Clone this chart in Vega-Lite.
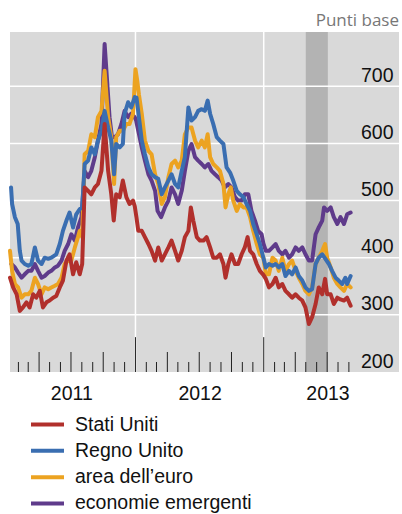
{
"$schema": "https://vega.github.io/schema/vega-lite/v6.json",
"width": 389, "height": 340,
"autosize": "none",
"padding": {"left": 10, "top": 32, "right": 3, "bottom": 142},
"background": "white",
"title": {"text": "Punti base", "anchor": "end", "frame": "group", "fontSize": 17, "font": "Open Sans", "fontWeight": "normal", "color": "#777777", "offset": 6, "baseline": "alphabetic", "dy": 18},
"config": {
  "view": {"fill": "#d9d9d9", "stroke": null},
  "axisY": {"domain": false, "ticks": false, "grid": false, "labelFontSize": 19.5, "labelFont": "Liberation Sans", "labelColor": "#111111", "labelAlign": "right", "labelPadding": -6, "labelOffset": -5, "labelBaseline": "alphabetic", "title": null, "zindex": 1},
  "axisX": {"domain": false, "ticks": false, "grid": false, "labelFontSize": 19.5, "labelFont": "Liberation Sans", "labelColor": "#111111", "labelPadding": 12, "title": null},
  "legend": {"orient": "none", "legendX": 27.75, "legendY": 382.8, "direction": "vertical", "title": null, "symbolType": "M-3,0H3", "symbolSize": 121, "symbolStrokeWidth": 4, "labelFontSize": 19.5, "labelFont": "Liberation Sans", "labelColor": "#111111", "rowPadding": 5.3, "labelOffset": 17.75, "padding": 0, "symbolOffset": 0, "labelLimit": 0}
},
"datasets": {
  "band": [{"a": "2013-05-01", "b": "2013-07-03"}],
  "vgrid": [{"d": "2012-01-01"}, {"d": "2013-01-01"}],
  "hgrid": [{"g": 300}, {"g": 400}, {"g": 500}, {"g": 600}, {"g": 700}],
  "ticks": [
    {"d": "2011-02-01", "k": "m"}, {"d": "2011-03-01", "k": "m"}, {"d": "2011-04-01", "k": "q"}, {"d": "2011-05-01", "k": "m"}, {"d": "2011-06-01", "k": "m"}, {"d": "2011-07-01", "k": "q"}, {"d": "2011-08-01", "k": "m"}, {"d": "2011-09-01", "k": "m"}, {"d": "2011-10-01", "k": "q"}, {"d": "2011-11-01", "k": "m"}, {"d": "2011-12-01", "k": "m"},
    {"d": "2012-01-01", "k": "y"}, {"d": "2012-02-01", "k": "m"}, {"d": "2012-03-01", "k": "m"}, {"d": "2012-04-01", "k": "q"}, {"d": "2012-05-01", "k": "m"}, {"d": "2012-06-01", "k": "m"}, {"d": "2012-07-01", "k": "q"}, {"d": "2012-08-01", "k": "m"}, {"d": "2012-09-01", "k": "m"}, {"d": "2012-10-01", "k": "q"}, {"d": "2012-11-01", "k": "m"}, {"d": "2012-12-01", "k": "m"},
    {"d": "2013-01-01", "k": "y"}, {"d": "2013-02-01", "k": "m"}, {"d": "2013-03-01", "k": "m"}, {"d": "2013-04-01", "k": "q"}, {"d": "2013-05-01", "k": "m"}, {"d": "2013-06-01", "k": "m"}, {"d": "2013-07-01", "k": "q"}, {"d": "2013-08-01", "k": "m"}, {"d": "2013-09-01", "k": "m"}
  ],
  "series": [
    {"d":"2011-01-08","s":"Stati Uniti","v":365},{"d":"2011-01-17","s":"Stati Uniti","v":348},{"d":"2011-01-27","s":"Stati Uniti","v":336},{"d":"2011-02-05","s":"Stati Uniti","v":307},{"d":"2011-02-14","s":"Stati Uniti","v":313},{"d":"2011-02-24","s":"Stati Uniti","v":322},{"d":"2011-03-05","s":"Stati Uniti","v":313},{"d":"2011-03-15","s":"Stati Uniti","v":336},{"d":"2011-03-24","s":"Stati Uniti","v":330},{"d":"2011-04-03","s":"Stati Uniti","v":342},{"d":"2011-04-12","s":"Stati Uniti","v":313},{"d":"2011-04-22","s":"Stati Uniti","v":322},{"d":"2011-05-01","s":"Stati Uniti","v":325},{"d":"2011-05-11","s":"Stati Uniti","v":330},{"d":"2011-05-20","s":"Stati Uniti","v":333},{"d":"2011-05-30","s":"Stati Uniti","v":348},{"d":"2011-06-08","s":"Stati Uniti","v":360},{"d":"2011-06-18","s":"Stati Uniti","v":395},{"d":"2011-06-27","s":"Stati Uniti","v":406},{"d":"2011-07-07","s":"Stati Uniti","v":371},{"d":"2011-07-16","s":"Stati Uniti","v":392},{"d":"2011-07-26","s":"Stati Uniti","v":371},{"d":"2011-08-02","s":"Stati Uniti","v":389},{"d":"2011-08-09","s":"Stati Uniti","v":523},{"d":"2011-08-19","s":"Stati Uniti","v":517},{"d":"2011-08-28","s":"Stati Uniti","v":511},{"d":"2011-09-07","s":"Stati Uniti","v":523},{"d":"2011-09-16","s":"Stati Uniti","v":529},{"d":"2011-09-26","s":"Stati Uniti","v":552},{"d":"2011-10-05","s":"Stati Uniti","v":634},{"d":"2011-10-15","s":"Stati Uniti","v":552},{"d":"2011-10-24","s":"Stati Uniti","v":511},{"d":"2011-10-31","s":"Stati Uniti","v":465},{"d":"2011-11-07","s":"Stati Uniti","v":511},{"d":"2011-11-17","s":"Stati Uniti","v":506},{"d":"2011-11-26","s":"Stati Uniti","v":535},{"d":"2011-12-06","s":"Stati Uniti","v":506},{"d":"2011-12-15","s":"Stati Uniti","v":494},{"d":"2011-12-25","s":"Stati Uniti","v":500},{"d":"2011-12-30","s":"Stati Uniti","v":490},{"d":"2012-01-04","s":"Stati Uniti","v":470},{"d":"2012-01-09","s":"Stati Uniti","v":447},{"d":"2012-01-19","s":"Stati Uniti","v":447},{"d":"2012-01-28","s":"Stati Uniti","v":436},{"d":"2012-02-07","s":"Stati Uniti","v":424},{"d":"2012-02-16","s":"Stati Uniti","v":412},{"d":"2012-02-26","s":"Stati Uniti","v":395},{"d":"2012-03-06","s":"Stati Uniti","v":418},{"d":"2012-03-16","s":"Stati Uniti","v":395},{"d":"2012-03-25","s":"Stati Uniti","v":406},{"d":"2012-04-04","s":"Stati Uniti","v":418},{"d":"2012-04-13","s":"Stati Uniti","v":430},{"d":"2012-04-23","s":"Stati Uniti","v":412},{"d":"2012-05-02","s":"Stati Uniti","v":395},{"d":"2012-05-12","s":"Stati Uniti","v":412},{"d":"2012-05-21","s":"Stati Uniti","v":436},{"d":"2012-05-31","s":"Stati Uniti","v":447},{"d":"2012-06-07","s":"Stati Uniti","v":488},{"d":"2012-06-14","s":"Stati Uniti","v":465},{"d":"2012-06-24","s":"Stati Uniti","v":436},{"d":"2012-07-03","s":"Stati Uniti","v":430},{"d":"2012-07-13","s":"Stati Uniti","v":430},{"d":"2012-07-22","s":"Stati Uniti","v":436},{"d":"2012-08-01","s":"Stati Uniti","v":418},{"d":"2012-08-10","s":"Stati Uniti","v":400},{"d":"2012-08-20","s":"Stati Uniti","v":400},{"d":"2012-08-29","s":"Stati Uniti","v":406},{"d":"2012-09-08","s":"Stati Uniti","v":389},{"d":"2012-09-14","s":"Stati Uniti","v":365},{"d":"2012-09-22","s":"Stati Uniti","v":389},{"d":"2012-10-01","s":"Stati Uniti","v":406},{"d":"2012-10-11","s":"Stati Uniti","v":389},{"d":"2012-10-20","s":"Stati Uniti","v":389},{"d":"2012-10-30","s":"Stati Uniti","v":406},{"d":"2012-11-08","s":"Stati Uniti","v":418},{"d":"2012-11-16","s":"Stati Uniti","v":436},{"d":"2012-11-23","s":"Stati Uniti","v":412},{"d":"2012-12-02","s":"Stati Uniti","v":406},{"d":"2012-12-12","s":"Stati Uniti","v":389},{"d":"2012-12-21","s":"Stati Uniti","v":377},{"d":"2012-12-31","s":"Stati Uniti","v":370},{"d":"2013-01-07","s":"Stati Uniti","v":363},{"d":"2013-01-16","s":"Stati Uniti","v":348},{"d":"2013-01-26","s":"Stati Uniti","v":354},{"d":"2013-02-04","s":"Stati Uniti","v":365},{"d":"2013-02-13","s":"Stati Uniti","v":348},{"d":"2013-02-23","s":"Stati Uniti","v":354},{"d":"2013-03-04","s":"Stati Uniti","v":342},{"d":"2013-03-14","s":"Stati Uniti","v":336},{"d":"2013-03-23","s":"Stati Uniti","v":330},{"d":"2013-04-02","s":"Stati Uniti","v":336},{"d":"2013-04-11","s":"Stati Uniti","v":330},{"d":"2013-04-21","s":"Stati Uniti","v":325},{"d":"2013-04-30","s":"Stati Uniti","v":313},{"d":"2013-05-10","s":"Stati Uniti","v":284},{"d":"2013-05-19","s":"Stati Uniti","v":296},{"d":"2013-05-29","s":"Stati Uniti","v":319},{"d":"2013-06-07","s":"Stati Uniti","v":348},{"d":"2013-06-17","s":"Stati Uniti","v":336},{"d":"2013-06-25","s":"Stati Uniti","v":363},{"d":"2013-07-01","s":"Stati Uniti","v":336},{"d":"2013-07-11","s":"Stati Uniti","v":336},{"d":"2013-07-20","s":"Stati Uniti","v":319},{"d":"2013-07-30","s":"Stati Uniti","v":330},{"d":"2013-08-08","s":"Stati Uniti","v":327},{"d":"2013-08-18","s":"Stati Uniti","v":325},{"d":"2013-08-27","s":"Stati Uniti","v":330},{"d":"2013-09-06","s":"Stati Uniti","v":316},

    {"d":"2011-01-11","s":"Regno Unito","v":523},{"d":"2011-01-14","s":"Regno Unito","v":494},{"d":"2011-01-22","s":"Regno Unito","v":471},{"d":"2011-01-30","s":"Regno Unito","v":459},{"d":"2011-02-05","s":"Regno Unito","v":412},{"d":"2011-02-10","s":"Regno Unito","v":395},{"d":"2011-02-19","s":"Regno Unito","v":389},{"d":"2011-03-01","s":"Regno Unito","v":386},{"d":"2011-03-10","s":"Regno Unito","v":389},{"d":"2011-03-20","s":"Regno Unito","v":418},{"d":"2011-03-29","s":"Regno Unito","v":395},{"d":"2011-04-08","s":"Regno Unito","v":389},{"d":"2011-04-17","s":"Regno Unito","v":400},{"d":"2011-04-27","s":"Regno Unito","v":398},{"d":"2011-05-06","s":"Regno Unito","v":400},{"d":"2011-05-20","s":"Regno Unito","v":406},{"d":"2011-05-30","s":"Regno Unito","v":424},{"d":"2011-06-08","s":"Regno Unito","v":447},{"d":"2011-06-18","s":"Regno Unito","v":465},{"d":"2011-06-27","s":"Regno Unito","v":479},{"d":"2011-07-07","s":"Regno Unito","v":453},{"d":"2011-07-16","s":"Regno Unito","v":476},{"d":"2011-07-26","s":"Regno Unito","v":485},{"d":"2011-08-02","s":"Regno Unito","v":488},{"d":"2011-08-09","s":"Regno Unito","v":564},{"d":"2011-08-19","s":"Regno Unito","v":570},{"d":"2011-08-28","s":"Regno Unito","v":593},{"d":"2011-09-07","s":"Regno Unito","v":581},{"d":"2011-09-16","s":"Regno Unito","v":605},{"d":"2011-09-26","s":"Regno Unito","v":622},{"d":"2011-10-05","s":"Regno Unito","v":657},{"d":"2011-10-15","s":"Regno Unito","v":628},{"d":"2011-10-24","s":"Regno Unito","v":605},{"d":"2011-11-01","s":"Regno Unito","v":546},{"d":"2011-11-07","s":"Regno Unito","v":599},{"d":"2011-11-17","s":"Regno Unito","v":593},{"d":"2011-11-26","s":"Regno Unito","v":599},{"d":"2011-12-01","s":"Regno Unito","v":652},{"d":"2011-12-11","s":"Regno Unito","v":672},{"d":"2011-12-20","s":"Regno Unito","v":663},{"d":"2011-12-30","s":"Regno Unito","v":681},{"d":"2012-01-04","s":"Regno Unito","v":680},{"d":"2012-01-12","s":"Regno Unito","v":640},{"d":"2012-01-19","s":"Regno Unito","v":605},{"d":"2012-01-28","s":"Regno Unito","v":581},{"d":"2012-02-07","s":"Regno Unito","v":558},{"d":"2012-02-16","s":"Regno Unito","v":546},{"d":"2012-02-26","s":"Regno Unito","v":541},{"d":"2012-03-06","s":"Regno Unito","v":538},{"d":"2012-03-16","s":"Regno Unito","v":511},{"d":"2012-03-25","s":"Regno Unito","v":523},{"d":"2012-04-04","s":"Regno Unito","v":535},{"d":"2012-04-13","s":"Regno Unito","v":546},{"d":"2012-04-23","s":"Regno Unito","v":529},{"d":"2012-05-02","s":"Regno Unito","v":523},{"d":"2012-05-12","s":"Regno Unito","v":552},{"d":"2012-05-21","s":"Regno Unito","v":576},{"d":"2012-05-31","s":"Regno Unito","v":663},{"d":"2012-06-09","s":"Regno Unito","v":640},{"d":"2012-06-19","s":"Regno Unito","v":646},{"d":"2012-06-28","s":"Regno Unito","v":657},{"d":"2012-07-08","s":"Regno Unito","v":660},{"d":"2012-07-17","s":"Regno Unito","v":657},{"d":"2012-07-25","s":"Regno Unito","v":675},{"d":"2012-08-01","s":"Regno Unito","v":652},{"d":"2012-08-10","s":"Regno Unito","v":634},{"d":"2012-08-20","s":"Regno Unito","v":611},{"d":"2012-08-29","s":"Regno Unito","v":605},{"d":"2012-09-08","s":"Regno Unito","v":599},{"d":"2012-09-17","s":"Regno Unito","v":558},{"d":"2012-09-27","s":"Regno Unito","v":549},{"d":"2012-10-06","s":"Regno Unito","v":535},{"d":"2012-10-16","s":"Regno Unito","v":517},{"d":"2012-10-25","s":"Regno Unito","v":511},{"d":"2012-11-04","s":"Regno Unito","v":506},{"d":"2012-11-13","s":"Regno Unito","v":494},{"d":"2012-11-23","s":"Regno Unito","v":482},{"d":"2012-12-02","s":"Regno Unito","v":459},{"d":"2012-12-12","s":"Regno Unito","v":441},{"d":"2012-12-21","s":"Regno Unito","v":424},{"d":"2012-12-31","s":"Regno Unito","v":400},{"d":"2013-01-07","s":"Regno Unito","v":383},{"d":"2013-01-16","s":"Regno Unito","v":389},{"d":"2013-01-26","s":"Regno Unito","v":386},{"d":"2013-02-04","s":"Regno Unito","v":389},{"d":"2013-02-13","s":"Regno Unito","v":383},{"d":"2013-02-23","s":"Regno Unito","v":389},{"d":"2013-03-04","s":"Regno Unito","v":368},{"d":"2013-03-14","s":"Regno Unito","v":377},{"d":"2013-03-23","s":"Regno Unito","v":371},{"d":"2013-04-02","s":"Regno Unito","v":383},{"d":"2013-04-11","s":"Regno Unito","v":368},{"d":"2013-04-21","s":"Regno Unito","v":360},{"d":"2013-04-30","s":"Regno Unito","v":348},{"d":"2013-05-10","s":"Regno Unito","v":342},{"d":"2013-05-19","s":"Regno Unito","v":345},{"d":"2013-05-29","s":"Regno Unito","v":389},{"d":"2013-06-07","s":"Regno Unito","v":400},{"d":"2013-06-17","s":"Regno Unito","v":406},{"d":"2013-06-26","s":"Regno Unito","v":398},{"d":"2013-07-06","s":"Regno Unito","v":389},{"d":"2013-07-15","s":"Regno Unito","v":377},{"d":"2013-07-25","s":"Regno Unito","v":365},{"d":"2013-08-03","s":"Regno Unito","v":360},{"d":"2013-08-13","s":"Regno Unito","v":354},{"d":"2013-08-22","s":"Regno Unito","v":365},{"d":"2013-08-27","s":"Regno Unito","v":354},{"d":"2013-09-06","s":"Regno Unito","v":368},

    {"d":"2011-01-08","s":"area dell’euro","v":412},{"d":"2011-01-14","s":"area dell’euro","v":377},{"d":"2011-01-22","s":"area dell’euro","v":354},{"d":"2011-01-31","s":"area dell’euro","v":348},{"d":"2011-02-10","s":"area dell’euro","v":330},{"d":"2011-02-19","s":"area dell’euro","v":336},{"d":"2011-03-01","s":"area dell’euro","v":336},{"d":"2011-03-10","s":"area dell’euro","v":342},{"d":"2011-03-20","s":"area dell’euro","v":365},{"d":"2011-03-29","s":"area dell’euro","v":354},{"d":"2011-04-08","s":"area dell’euro","v":336},{"d":"2011-04-17","s":"area dell’euro","v":348},{"d":"2011-04-27","s":"area dell’euro","v":345},{"d":"2011-05-06","s":"area dell’euro","v":348},{"d":"2011-05-16","s":"area dell’euro","v":351},{"d":"2011-05-25","s":"area dell’euro","v":354},{"d":"2011-06-04","s":"area dell’euro","v":365},{"d":"2011-06-13","s":"area dell’euro","v":389},{"d":"2011-06-23","s":"area dell’euro","v":395},{"d":"2011-07-02","s":"area dell’euro","v":395},{"d":"2011-07-12","s":"area dell’euro","v":418},{"d":"2011-07-21","s":"area dell’euro","v":436},{"d":"2011-07-26","s":"area dell’euro","v":447},{"d":"2011-08-02","s":"area dell’euro","v":436},{"d":"2011-08-09","s":"area dell’euro","v":581},{"d":"2011-08-19","s":"area dell’euro","v":587},{"d":"2011-08-28","s":"area dell’euro","v":616},{"d":"2011-09-07","s":"area dell’euro","v":611},{"d":"2011-09-16","s":"area dell’euro","v":646},{"d":"2011-09-26","s":"area dell’euro","v":657},{"d":"2011-10-05","s":"area dell’euro","v":727},{"d":"2011-10-15","s":"area dell’euro","v":646},{"d":"2011-10-24","s":"area dell’euro","v":611},{"d":"2011-11-01","s":"area dell’euro","v":529},{"d":"2011-11-07","s":"area dell’euro","v":611},{"d":"2011-11-17","s":"area dell’euro","v":622},{"d":"2011-11-26","s":"area dell’euro","v":622},{"d":"2011-12-06","s":"area dell’euro","v":634},{"d":"2011-12-15","s":"area dell’euro","v":634},{"d":"2011-12-25","s":"area dell’euro","v":652},{"d":"2012-01-01","s":"area dell’euro","v":730},{"d":"2012-01-06","s":"area dell’euro","v":710},{"d":"2012-01-11","s":"area dell’euro","v":685},{"d":"2012-01-19","s":"area dell’euro","v":652},{"d":"2012-01-28","s":"area dell’euro","v":605},{"d":"2012-02-07","s":"area dell’euro","v":587},{"d":"2012-02-16","s":"area dell’euro","v":581},{"d":"2012-02-26","s":"area dell’euro","v":546},{"d":"2012-03-06","s":"area dell’euro","v":529},{"d":"2012-03-16","s":"area dell’euro","v":494},{"d":"2012-03-25","s":"area dell’euro","v":506},{"d":"2012-04-04","s":"area dell’euro","v":541},{"d":"2012-04-13","s":"area dell’euro","v":564},{"d":"2012-04-23","s":"area dell’euro","v":570},{"d":"2012-05-02","s":"area dell’euro","v":558},{"d":"2012-05-12","s":"area dell’euro","v":570},{"d":"2012-05-21","s":"area dell’euro","v":616},{"d":"2012-05-31","s":"area dell’euro","v":628},{"d":"2012-06-09","s":"area dell’euro","v":628},{"d":"2012-06-19","s":"area dell’euro","v":605},{"d":"2012-06-28","s":"area dell’euro","v":593},{"d":"2012-07-08","s":"area dell’euro","v":605},{"d":"2012-07-17","s":"area dell’euro","v":593},{"d":"2012-07-25","s":"area dell’euro","v":616},{"d":"2012-08-01","s":"area dell’euro","v":576},{"d":"2012-08-10","s":"area dell’euro","v":564},{"d":"2012-08-20","s":"area dell’euro","v":558},{"d":"2012-08-29","s":"area dell’euro","v":552},{"d":"2012-09-08","s":"area dell’euro","v":529},{"d":"2012-09-14","s":"area dell’euro","v":488},{"d":"2012-09-22","s":"area dell’euro","v":511},{"d":"2012-09-29","s":"area dell’euro","v":523},{"d":"2012-10-06","s":"area dell’euro","v":500},{"d":"2012-10-16","s":"area dell’euro","v":482},{"d":"2012-10-25","s":"area dell’euro","v":494},{"d":"2012-11-04","s":"area dell’euro","v":488},{"d":"2012-11-13","s":"area dell’euro","v":488},{"d":"2012-11-23","s":"area dell’euro","v":471},{"d":"2012-12-02","s":"area dell’euro","v":447},{"d":"2012-12-12","s":"area dell’euro","v":424},{"d":"2012-12-21","s":"area dell’euro","v":406},{"d":"2012-12-31","s":"area dell’euro","v":400},{"d":"2013-01-07","s":"area dell’euro","v":371},{"d":"2013-01-16","s":"area dell’euro","v":371},{"d":"2013-01-26","s":"area dell’euro","v":400},{"d":"2013-02-04","s":"area dell’euro","v":395},{"d":"2013-02-13","s":"area dell’euro","v":377},{"d":"2013-02-23","s":"area dell’euro","v":400},{"d":"2013-03-04","s":"area dell’euro","v":377},{"d":"2013-03-14","s":"area dell’euro","v":389},{"d":"2013-03-23","s":"area dell’euro","v":395},{"d":"2013-04-02","s":"area dell’euro","v":377},{"d":"2013-04-11","s":"area dell’euro","v":365},{"d":"2013-04-21","s":"area dell’euro","v":354},{"d":"2013-04-30","s":"area dell’euro","v":342},{"d":"2013-05-10","s":"area dell’euro","v":336},{"d":"2013-05-19","s":"area dell’euro","v":348},{"d":"2013-05-29","s":"area dell’euro","v":389},{"d":"2013-06-07","s":"area dell’euro","v":400},{"d":"2013-06-17","s":"area dell’euro","v":412},{"d":"2013-06-25","s":"area dell’euro","v":424},{"d":"2013-07-01","s":"area dell’euro","v":400},{"d":"2013-07-11","s":"area dell’euro","v":383},{"d":"2013-07-20","s":"area dell’euro","v":365},{"d":"2013-07-30","s":"area dell’euro","v":354},{"d":"2013-08-08","s":"area dell’euro","v":348},{"d":"2013-08-18","s":"area dell’euro","v":342},{"d":"2013-08-27","s":"area dell’euro","v":354},{"d":"2013-09-06","s":"area dell’euro","v":348},

    {"d":"2011-01-12","s":"economie emergenti","v":389},{"d":"2011-01-22","s":"economie emergenti","v":383},{"d":"2011-01-31","s":"economie emergenti","v":374},{"d":"2011-02-10","s":"economie emergenti","v":365},{"d":"2011-02-19","s":"economie emergenti","v":371},{"d":"2011-03-01","s":"economie emergenti","v":377},{"d":"2011-03-10","s":"economie emergenti","v":377},{"d":"2011-03-20","s":"economie emergenti","v":389},{"d":"2011-03-29","s":"economie emergenti","v":377},{"d":"2011-04-08","s":"economie emergenti","v":365},{"d":"2011-04-17","s":"economie emergenti","v":368},{"d":"2011-04-27","s":"economie emergenti","v":374},{"d":"2011-05-06","s":"economie emergenti","v":377},{"d":"2011-05-16","s":"economie emergenti","v":383},{"d":"2011-05-25","s":"economie emergenti","v":386},{"d":"2011-06-04","s":"economie emergenti","v":395},{"d":"2011-06-13","s":"economie emergenti","v":412},{"d":"2011-06-23","s":"economie emergenti","v":424},{"d":"2011-07-02","s":"economie emergenti","v":441},{"d":"2011-07-12","s":"economie emergenti","v":430},{"d":"2011-07-21","s":"economie emergenti","v":453},{"d":"2011-07-31","s":"economie emergenti","v":471},{"d":"2011-08-09","s":"economie emergenti","v":552},{"d":"2011-08-19","s":"economie emergenti","v":541},{"d":"2011-08-28","s":"economie emergenti","v":552},{"d":"2011-09-07","s":"economie emergenti","v":576},{"d":"2011-09-16","s":"economie emergenti","v":605},{"d":"2011-09-26","s":"economie emergenti","v":634},{"d":"2011-10-05","s":"economie emergenti","v":774},{"d":"2011-10-12","s":"economie emergenti","v":710},{"d":"2011-10-19","s":"economie emergenti","v":646},{"d":"2011-10-26","s":"economie emergenti","v":611},{"d":"2011-11-03","s":"economie emergenti","v":611},{"d":"2011-11-12","s":"economie emergenti","v":616},{"d":"2011-11-22","s":"economie emergenti","v":634},{"d":"2011-12-01","s":"economie emergenti","v":657},{"d":"2011-12-11","s":"economie emergenti","v":646},{"d":"2011-12-20","s":"economie emergenti","v":652},{"d":"2011-12-30","s":"economie emergenti","v":646},{"d":"2012-01-03","s":"economie emergenti","v":640},{"d":"2012-01-09","s":"economie emergenti","v":622},{"d":"2012-01-19","s":"economie emergenti","v":593},{"d":"2012-01-28","s":"economie emergenti","v":570},{"d":"2012-02-07","s":"economie emergenti","v":546},{"d":"2012-02-16","s":"economie emergenti","v":535},{"d":"2012-02-26","s":"economie emergenti","v":517},{"d":"2012-03-04","s":"economie emergenti","v":482},{"d":"2012-03-14","s":"economie emergenti","v":471},{"d":"2012-03-25","s":"economie emergenti","v":488},{"d":"2012-04-04","s":"economie emergenti","v":500},{"d":"2012-04-13","s":"economie emergenti","v":523},{"d":"2012-04-23","s":"economie emergenti","v":511},{"d":"2012-05-02","s":"economie emergenti","v":494},{"d":"2012-05-12","s":"economie emergenti","v":517},{"d":"2012-05-21","s":"economie emergenti","v":552},{"d":"2012-05-31","s":"economie emergenti","v":587},{"d":"2012-06-09","s":"economie emergenti","v":599},{"d":"2012-06-19","s":"economie emergenti","v":576},{"d":"2012-06-28","s":"economie emergenti","v":570},{"d":"2012-07-08","s":"economie emergenti","v":564},{"d":"2012-07-17","s":"economie emergenti","v":558},{"d":"2012-07-27","s":"economie emergenti","v":564},{"d":"2012-08-05","s":"economie emergenti","v":552},{"d":"2012-08-15","s":"economie emergenti","v":546},{"d":"2012-08-24","s":"economie emergenti","v":541},{"d":"2012-09-03","s":"economie emergenti","v":535},{"d":"2012-09-12","s":"economie emergenti","v":523},{"d":"2012-09-22","s":"economie emergenti","v":529},{"d":"2012-10-01","s":"economie emergenti","v":523},{"d":"2012-10-11","s":"economie emergenti","v":506},{"d":"2012-10-20","s":"economie emergenti","v":500},{"d":"2012-10-30","s":"economie emergenti","v":500},{"d":"2012-11-08","s":"economie emergenti","v":511},{"d":"2012-11-18","s":"economie emergenti","v":511},{"d":"2012-11-27","s":"economie emergenti","v":482},{"d":"2012-12-07","s":"economie emergenti","v":465},{"d":"2012-12-16","s":"economie emergenti","v":447},{"d":"2012-12-26","s":"economie emergenti","v":441},{"d":"2012-12-31","s":"economie emergenti","v":425},{"d":"2013-01-07","s":"economie emergenti","v":412},{"d":"2013-01-16","s":"economie emergenti","v":412},{"d":"2013-01-26","s":"economie emergenti","v":418},{"d":"2013-02-04","s":"economie emergenti","v":424},{"d":"2013-02-13","s":"economie emergenti","v":412},{"d":"2013-02-23","s":"economie emergenti","v":406},{"d":"2013-03-04","s":"economie emergenti","v":412},{"d":"2013-03-14","s":"economie emergenti","v":400},{"d":"2013-03-23","s":"economie emergenti","v":406},{"d":"2013-04-02","s":"economie emergenti","v":418},{"d":"2013-04-11","s":"economie emergenti","v":412},{"d":"2013-04-21","s":"economie emergenti","v":418},{"d":"2013-04-30","s":"economie emergenti","v":406},{"d":"2013-05-10","s":"economie emergenti","v":395},{"d":"2013-05-19","s":"economie emergenti","v":395},{"d":"2013-05-29","s":"economie emergenti","v":441},{"d":"2013-06-07","s":"economie emergenti","v":453},{"d":"2013-06-17","s":"economie emergenti","v":465},{"d":"2013-06-22","s":"economie emergenti","v":488},{"d":"2013-07-01","s":"economie emergenti","v":482},{"d":"2013-07-11","s":"economie emergenti","v":488},{"d":"2013-07-20","s":"economie emergenti","v":471},{"d":"2013-07-30","s":"economie emergenti","v":459},{"d":"2013-08-08","s":"economie emergenti","v":471},{"d":"2013-08-18","s":"economie emergenti","v":459},{"d":"2013-08-27","s":"economie emergenti","v":476},{"d":"2013-09-06","s":"economie emergenti","v":479}
  ]
},
"layer": [
  {"data": {"name": "band"}, "mark": {"type": "rect", "color": "#b3b3b3"},
   "encoding": {
     "x": {"field": "a", "type": "temporal", "scale": {"type": "utc", "domain": [{"year": 2011, "month": 1, "date": 8, "utc": true}, {"year": 2014, "month": 1, "date": 22, "utc": true}]},
           "axis": {"values": [{"year": 2011, "month": 7, "date": 2, "utc": true}, {"year": 2012, "month": 7, "date": 2, "utc": true}, {"year": 2013, "month": 7, "date": 2, "utc": true}], "format": "%Y", "title": null}},
     "x2": {"field": "b"}}},
  {"data": {"name": "hgrid"}, "mark": {"type": "rule", "color": "#ffffff", "strokeWidth": 1.5},
   "encoding": {"y": {"field": "g", "type": "quantitative", "scale": {"domain": [200, 795], "nice": false, "zero": false},
                 "axis": {"orient": "right", "values": [200, 300, 400, 500, 600, 700], "title": null}}}},
  {"data": {"name": "vgrid"}, "mark": {"type": "rule", "color": "#ffffff", "strokeWidth": 1.5},
   "encoding": {"x": {"field": "d", "type": "temporal"}}},
  {"data": {"name": "series"}, "transform": [{"filter": "datum.s === 'economie emergenti'"}],
   "mark": {"type": "line", "strokeWidth": 4, "strokeJoin": "round", "strokeCap": "round"},
   "encoding": {"x": {"field": "d", "type": "temporal"}, "y": {"field": "v", "type": "quantitative"},
     "color": {"field": "s", "type": "nominal", "scale": {"domain": ["Stati Uniti", "Regno Unito", "area dell’euro", "economie emergenti"], "range": ["#b1302c", "#3a6eb1", "#eca321", "#5f3b8b"]}}}},
  {"data": {"name": "series"}, "transform": [{"filter": "datum.s === 'area dell’euro'"}],
   "mark": {"type": "line", "strokeWidth": 4, "strokeJoin": "round", "strokeCap": "round"},
   "encoding": {"x": {"field": "d", "type": "temporal"}, "y": {"field": "v", "type": "quantitative"},
     "color": {"field": "s", "type": "nominal"}}},
  {"data": {"name": "series"}, "transform": [{"filter": "datum.s === 'Regno Unito'"}],
   "mark": {"type": "line", "strokeWidth": 4, "strokeJoin": "round", "strokeCap": "round"},
   "encoding": {"x": {"field": "d", "type": "temporal"}, "y": {"field": "v", "type": "quantitative"},
     "color": {"field": "s", "type": "nominal"}}},
  {"data": {"name": "series"}, "transform": [{"filter": "datum.s === 'Stati Uniti'"}],
   "mark": {"type": "line", "strokeWidth": 4, "strokeJoin": "round", "strokeCap": "round"},
   "encoding": {"x": {"field": "d", "type": "temporal"}, "y": {"field": "v", "type": "quantitative"},
     "color": {"field": "s", "type": "nominal"}}},
  {"data": {"name": "ticks"}, "transform": [{"filter": "datum.k === 'm'"}], "mark": {"type": "rule", "color": "#222222", "strokeWidth": 1},
   "encoding": {"x": {"field": "d", "type": "temporal"}, "y": {"datum": 200, "type": "quantitative"}, "y2": {"datum": 217.5}}},
  {"data": {"name": "ticks"}, "transform": [{"filter": "datum.k === 'q'"}], "mark": {"type": "rule", "color": "#222222", "strokeWidth": 1},
   "encoding": {"x": {"field": "d", "type": "temporal"}, "y": {"datum": 200, "type": "quantitative"}, "y2": {"datum": 235}}},
  {"data": {"name": "ticks"}, "transform": [{"filter": "datum.k === 'y'"}], "mark": {"type": "rule", "color": "#222222", "strokeWidth": 1},
   "encoding": {"x": {"field": "d", "type": "temporal"}, "y": {"datum": 200, "type": "quantitative"}, "y2": {"datum": 261}}}
]
}
